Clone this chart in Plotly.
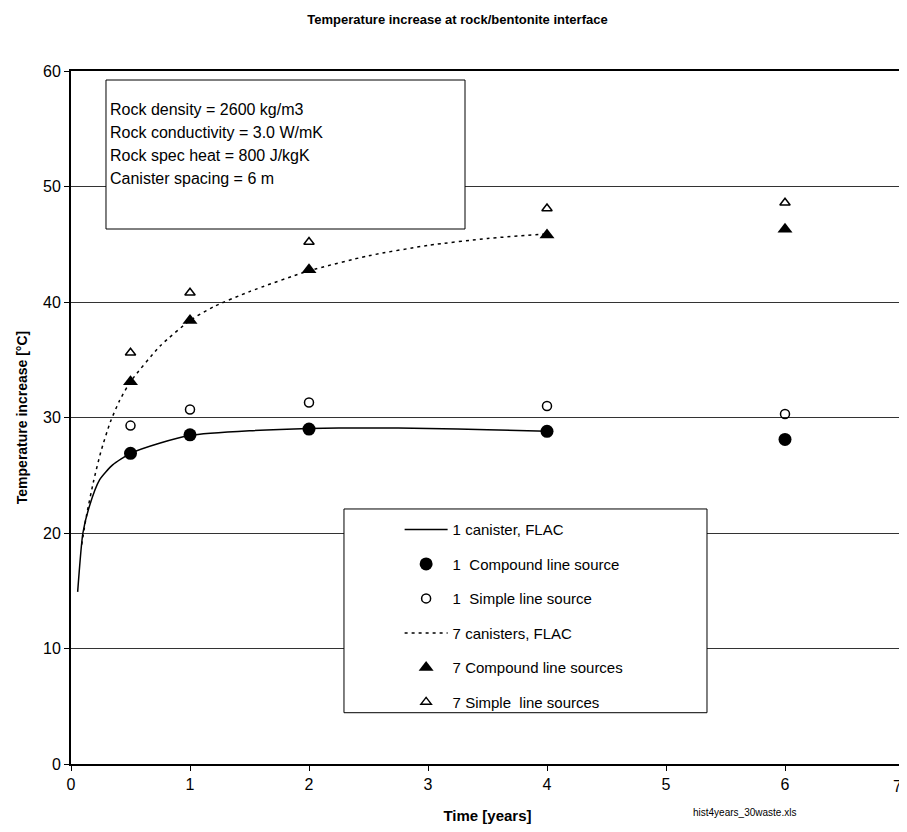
import plotly.graph_objects as go

# ---- data ----
t_points = [0.5, 1, 2, 4, 6]
compound_1 = [26.9, 28.5, 29.0, 28.8, 28.1]
simple_1 = [29.3, 30.7, 31.3, 31.0, 30.3]
compound_7 = [33.1, 38.4, 42.8, 45.8, 46.3]
simple_7 = [35.6, 40.8, 45.2, 48.1, 48.6]

flac1_t = [0.056, 0.1, 0.154, 0.24, 0.35, 0.5, 0.75, 1.0, 1.5, 2.0, 2.5, 3.0, 3.5, 4.0]
flac1_v = [14.9, 20.0, 22.3, 24.6, 25.9, 26.9, 27.8, 28.45, 28.85, 29.05, 29.1, 29.05, 28.95, 28.8]
flac7_t = [0.09, 0.13, 0.19, 0.25, 0.33, 0.41, 0.5, 0.75, 1.0, 1.2, 1.5, 2.0, 2.5, 3.0, 3.5, 4.0]
flac7_v = [19.0, 21.5, 24.5, 27.0, 29.6, 31.5, 33.1, 36.2, 38.4, 39.6, 40.9, 42.7, 44.0, 44.9, 45.5, 45.9]

x_ticks = [0, 1, 2, 3, 4, 5, 6, 7]
y_ticks = [0, 10, 20, 30, 40, 50, 60]

info_lines = ["Rock density = 2600 kg/m3", "Rock conductivity = 3.0 W/mK",
              "Rock spec heat = 800 J/kgK", "Canister spacing = 6 m"]

FONT = "Arial, 'Liberation Sans', sans-serif"

fig = go.Figure()
fig.add_trace(go.Scatter(x=flac1_t, y=flac1_v, mode="lines", name="1 canister, FLAC",
                         line=dict(color="black", width=1.5, shape="spline", smoothing=0.6),
                         legendgroup="a"))
fig.add_trace(go.Scatter(x=t_points, y=compound_1, mode="markers", name="1  Compound line source",
                         marker=dict(symbol="circle", size=13, color="black"), legendgroup="b"))
fig.add_trace(go.Scatter(x=t_points, y=simple_1, mode="markers", name="1  Simple line source",
                         marker=dict(symbol="circle-open", size=9, color="black", line=dict(width=1.5)),
                         legendgroup="c"))
fig.add_trace(go.Scatter(x=flac7_t, y=flac7_v, mode="lines", name="7 canisters, FLAC",
                         line=dict(color="black", width=1.5, dash="3px,4px", shape="spline", smoothing=0.6),
                         legendgroup="d"))
fig.add_trace(go.Scatter(x=t_points, y=compound_7, mode="markers", name="7 Compound line sources",
                         marker=dict(symbol="triangle-up", size=13, color="black"), legendgroup="e"))
fig.add_trace(go.Scatter(x=t_points, y=simple_7, mode="markers", name="7 Simple  line sources",
                         marker=dict(symbol="triangle-up-open", size=9, color="black", line=dict(width=1.5)),
                         legendgroup="f"))

shapes = [
    # info box
    dict(type="rect", xref="paper", yref="paper", x0=0.042, x1=0.473, y0=0.772, y1=0.987,
         fillcolor="white", line=dict(color="black", width=1), layer="above"),
    # legend box
    dict(type="rect", xref="paper", yref="paper", x0=0.3277, x1=0.7635, y0=0.0740, y1=0.368,
         fillcolor="white", line=dict(color="black", width=1), layer="above"),
]

annotations = []
for i, line in enumerate(info_lines):
    annotations.append(dict(text=line, xref="paper", yref="paper", x=0.045,
                            y=(764 - (110 + 22.7 * i)) / 693, xanchor="left", yanchor="middle",
                            showarrow=False, font=dict(family=FONT, size=16, color="black")))
annotations.append(dict(text="hist4years_30waste.xls", xref="paper", yref="paper",
                        x=0.809, y=-0.0707, xanchor="center", yanchor="middle", showarrow=False,
                        font=dict(family=FONT, size=10, color="black")))
# last x tick label sits right at the page edge; keep it inside the page
annotations.append(dict(text=str(x_ticks[-1]), xref="paper", yref="paper", x=1.0, y=-0.033,
                        xanchor="right", yanchor="middle", showarrow=False,
                        font=dict(family=FONT, size=16, color="black")))

# page body has an 8px margin: the figure starts at (8, 8) in the window
fig.update_layout(
    width=899, height=824,
    margin=dict(l=63, r=3, t=63, b=68),
    paper_bgcolor="white", plot_bgcolor="white",
    title=dict(text="<b>Temperature increase at rock/bentonite interface</b>", x=0.5, xanchor="center",
               y=1 - 11 / 824, yanchor="middle", yref="container",
               font=dict(family=FONT, size=13, color="black")),
    font=dict(family=FONT, color="black"),
    showlegend=True,
    legend=dict(x=0.3945, xanchor="left", y=0.362, yanchor="top", bgcolor="rgba(0,0,0,0)",
                borderwidth=0, font=dict(family=FONT, size=15, color="black"),
                traceorder="grouped", tracegroupgap=12, itemwidth=43),
    shapes=shapes,
    annotations=annotations,
)
fig.update_xaxes(range=[0, 7], tickvals=x_ticks, ticktext=[str(v) for v in x_ticks[:-1]] + [""],
                 ticks="outside", ticklen=5, tickcolor="black",
                 showline=True, linecolor="black", linewidth=2, mirror=True, showgrid=False,
                 zeroline=False, automargin=False, tickfont=dict(family=FONT, size=16, color="black"),
                 title=dict(text="<b>Time [years]</b>", standoff=18,
                            font=dict(family=FONT, size=15, color="black")))
fig.update_yaxes(range=[0, 60], tickvals=y_ticks, ticks="outside", ticklen=5, tickcolor="black",
                 showline=True, linecolor="black", linewidth=2, mirror=True, showgrid=True,
                 gridcolor="#333333", gridwidth=1, zeroline=False, automargin=False,
                 tickfont=dict(family=FONT, size=16, color="black"),
                 title=dict(text="<b>Temperature increase [°C]</b>", standoff=12,
                            font=dict(family=FONT, size=14, color="black")))

fig.write_html("out.html")
